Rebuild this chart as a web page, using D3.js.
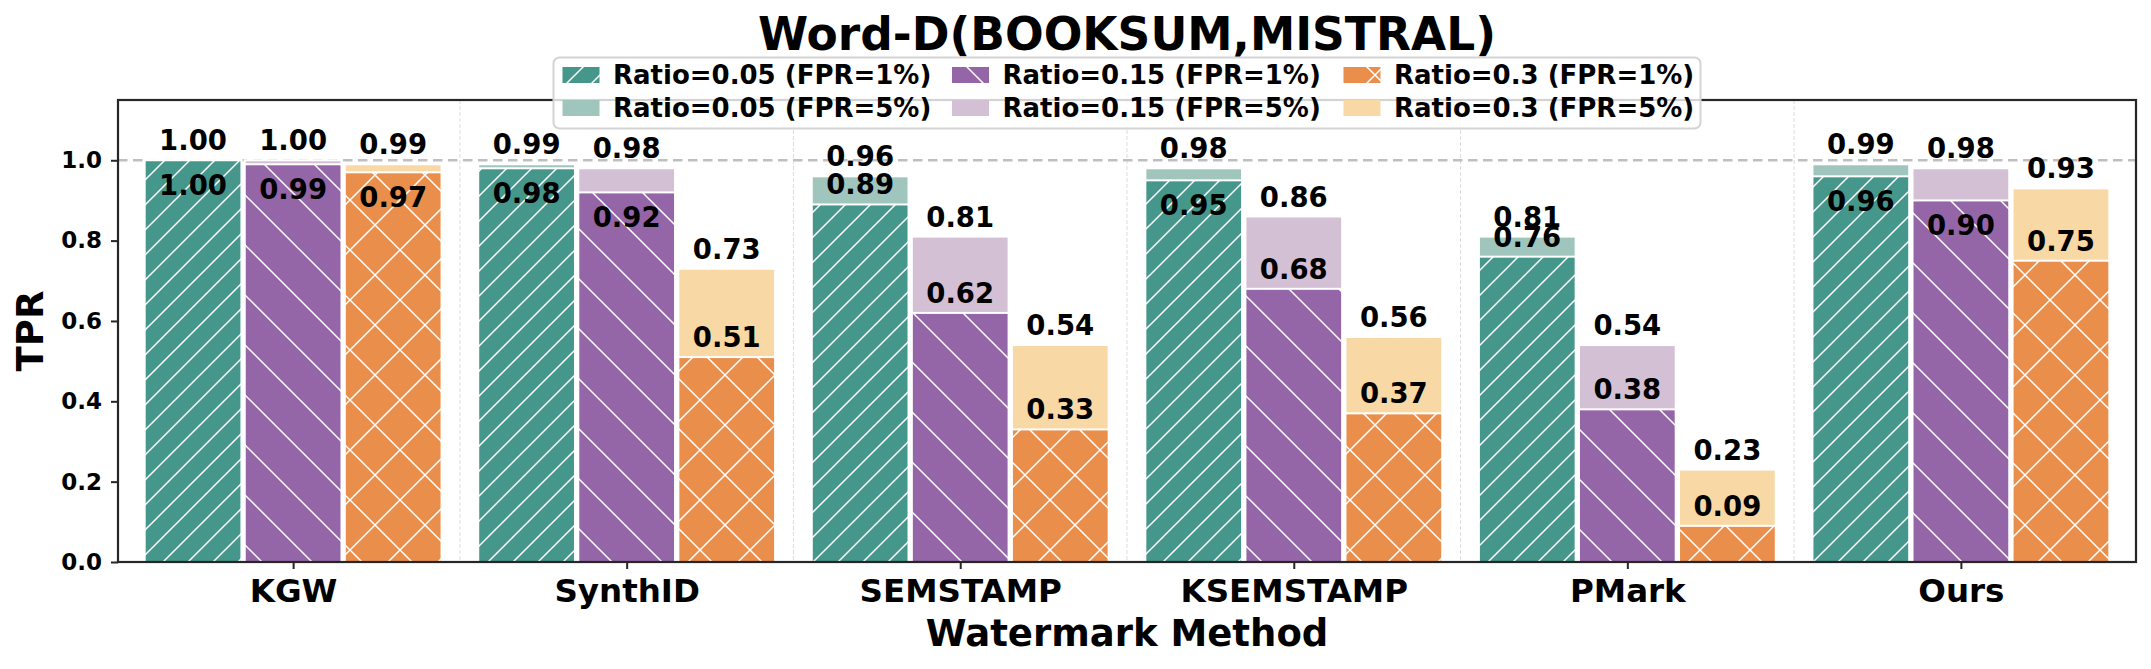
<!DOCTYPE html>
<html>
<head>
<meta charset="utf-8">
<script src="https://cdn.jsdelivr.net/npm/d3@7"></script>
<style>
  body { margin: 0; background: #fff; }
  text { font-family: "DejaVu Sans", sans-serif; font-weight: bold; }
</style>
</head>
<body>
<div id="chartdiv"></div>
<script>
// values
var methods = ["KGW", "SynthID", "SEMSTAMP", "KSEMSTAMP", "PMark", "Ours"];
var ratioNames = ["0.05", "0.15", "0.3"];

var fpr1Ratio005 = [1.00, 0.98, 0.89, 0.95, 0.76, 0.96];
var fpr5Ratio005 = [1.00, 0.99, 0.96, 0.98, 0.81, 0.99];
var fpr1Ratio015 = [0.99, 0.92, 0.62, 0.68, 0.38, 0.90];
var fpr5Ratio015 = [1.00, 0.98, 0.81, 0.86, 0.54, 0.98];
var fpr1Ratio03 = [0.97, 0.51, 0.33, 0.37, 0.09, 0.75];
var fpr5Ratio03 = [0.99, 0.73, 0.54, 0.56, 0.23, 0.93];

var yTicks = [0.0, 0.2, 0.4, 0.6, 0.8, 1.0];

var darkColors = ["#45968b", "#9566a7", "#ea8e4b"];
var lightColors = ["#9fc5bd", "#d4c0d5", "#f8d8a5"];
var hatchKinds = ["/", "\\", "x"];
var hatchSteps = [25, 50, 50];

var fpr1Series = [fpr1Ratio005, fpr1Ratio015, fpr1Ratio03];
var fpr5Series = [fpr5Ratio005, fpr5Ratio015, fpr5Ratio03];

var W = 2151, H = 669;
var plotLeft = 118, plotRight = 2136, plotTop = 100, plotBottom = 562;

var svg = d3.select("#chartdiv").append("svg")
  .attr("width", W)
  .attr("height", H)
  .attr("id", "chartSVG");

var x = d3.scaleLinear().domain([-0.525, 5.525]).range([plotLeft, plotRight]);
var y = d3.scaleLinear().domain([0, 1.15]).range([plotBottom, plotTop]);
var offset = 0.3;      // distance between bars inside a group
var barW = x(0.29) - x(0);

// hatch patterns, tiled from the page origin like matplotlib does
var defs = svg.append("defs");
function makeHatch(id, color, kind, s) {
  var p = defs.append("pattern")
    .attr("id", id)
    .attr("patternUnits", "userSpaceOnUse")
    .attr("x", 0).attr("y", 0)
    .attr("width", s).attr("height", s);
  p.append("rect").attr("width", s).attr("height", s).attr("fill", color);
  var d = "";
  if (kind == "/" || kind == "x") {
    d += "M0," + s + "L" + s + ",0M-3,3L3,-3M" + (s - 3) + "," + (s + 3) + "L" + (s + 3) + "," + (s - 3);
  }
  if (kind == "\\" || kind == "x") {
    d += "M0,0L" + s + "," + s + "M" + (s - 3) + ",-3L" + (s + 3) + ",3M-3," + (s - 3) + "L3," + (s + 3);
  }
  p.append("path").attr("d", d)
    .attr("stroke", "white")
    .attr("stroke-width", 1.5)
    .attr("fill", "none");
}
for (let r = 0; r < 3; r++) {
  makeHatch("hatch" + r, darkColors[r], hatchKinds[r], hatchSteps[r]);
}

// group separators
var seps = d3.range(methods.length - 1).map(function(i) { return i + 0.5; });
svg.selectAll(".sep").data(seps).enter().append("line")
  .attr("class", "sep")
  .attr("x1", function(d) { return x(d); })
  .attr("x2", function(d) { return x(d); })
  .attr("y1", plotTop).attr("y2", plotBottom)
  .attr("stroke", "#dcdcdc")
  .attr("stroke-width", 1)
  .attr("stroke-dasharray", "4,2");

// reference line at TPR = 1
svg.append("line")
  .attr("x1", plotLeft).attr("x2", plotRight)
  .attr("y1", y(1)).attr("y2", y(1))
  .attr("stroke", "#bfbfbf")
  .attr("stroke-width", 2.5)
  .attr("stroke-dasharray", "9.5,5.5");

// bars
for (let r = 0; r < 3; r++) {
  var g = svg.append("g").attr("class", "ratio" + r);
  var cx = function(i) { return x(i + (r - 1) * offset); };
  g.selectAll(".light").data(fpr5Series[r]).enter().append("rect")
    .attr("class", "light")
    .attr("x", function(d, i) { return cx(i) - barW / 2; })
    .attr("y", function(d) { return y(d); })
    .attr("width", barW)
    .attr("height", function(d) { return y(0) - y(d); })
    .attr("fill", lightColors[r])
    .attr("stroke", "white")
    .attr("stroke-width", 2);
  g.selectAll(".dark").data(fpr1Series[r]).enter().append("rect")
    .attr("class", "dark")
    .attr("x", function(d, i) { return cx(i) - barW / 2; })
    .attr("y", function(d) { return y(d); })
    .attr("width", barW)
    .attr("height", function(d) { return y(0) - y(d); })
    .attr("fill", "url(#hatch" + r + ")")
    .attr("stroke", "white")
    .attr("stroke-width", 2);

  // value labels: FPR=5% above the bar, FPR=1% inside when high, else above
  g.selectAll(".lab5").data(fpr5Series[r]).enter().append("text")
    .attr("class", "lab5")
    .attr("x", function(d, i) { return cx(i); })
    .attr("y", function(d) { return y(d) - 10; })
    .attr("text-anchor", "middle")
    .style("font-size", "27.5px")
    .text(function(d) { return d.toFixed(2); });
  g.selectAll(".lab1").data(fpr1Series[r]).enter().append("text")
    .attr("class", "lab1")
    .attr("x", function(d, i) { return cx(i); })
    .attr("y", function(d) { return d >= 0.9 ? y(d) + 34.5 : y(d) - 10; })
    .attr("text-anchor", "middle")
    .style("font-size", "27.5px")
    .text(function(d) { return d.toFixed(2); });
}

// axes
var yAxis = d3.axisLeft(y).tickValues(yTicks).tickSize(7).tickPadding(9)
  .tickFormat(d3.format(".1f"));
var gy = svg.append("g").attr("transform", "translate(" + plotLeft + ",0)").call(yAxis);
gy.select(".domain").remove();
gy.selectAll("line").attr("stroke", "#262626").attr("stroke-width", 2);
gy.selectAll("text").style("font-size", "23px").attr("fill", "black");

var xAxis = d3.axisBottom(x).tickValues(d3.range(methods.length)).tickSize(7)
  .tickFormat(function(d) { return methods[d]; });
var gx = svg.append("g").attr("transform", "translate(0," + plotBottom + ")").call(xAxis);
gx.select(".domain").remove();
gx.selectAll("line").attr("stroke", "#262626").attr("stroke-width", 2);
gx.selectAll("text").style("font-size", "32.5px").attr("fill", "black")
  .attr("y", 39.5).attr("dy", null);

// frame
svg.append("rect")
  .attr("x", plotLeft).attr("y", plotTop)
  .attr("width", plotRight - plotLeft).attr("height", plotBottom - plotTop)
  .attr("fill", "none")
  .attr("stroke", "#262626")
  .attr("stroke-width", 2.2);

// titles
svg.append("text")
  .attr("x", (plotLeft + plotRight) / 2).attr("y", 50)
  .attr("text-anchor", "middle")
  .style("font-size", "45.5px")
  .text("Word-D(BOOKSUM,MISTRAL)");
svg.append("text")
  .attr("x", (plotLeft + plotRight) / 2).attr("y", 646)
  .attr("text-anchor", "middle")
  .style("font-size", "37px")
  .text("Watermark Method");
svg.append("text")
  .attr("transform", "translate(42.5," + ((plotTop + plotBottom) / 2) + ") rotate(-90)")
  .attr("text-anchor", "middle")
  .style("font-size", "37px")
  .text("TPR");

// legend
var legend = svg.append("g").attr("class", "legend");
legend.append("rect")
  .attr("x", 553.5).attr("y", 57.5)
  .attr("width", 1147).attr("height", 71)
  .attr("rx", 6)
  .attr("fill", "white").attr("fill-opacity", 0.8)
  .attr("stroke", "#d4d4d4").attr("stroke-width", 2);
var colX = [562.5, 952, 1343.5];
var rowY = [67, 100];
for (let r = 0; r < 3; r++) {
  var fills = ["url(#hatch" + r + ")", lightColors[r]];
  var names = ["Ratio=" + ratioNames[r] + " (FPR=1%)", "Ratio=" + ratioNames[r] + " (FPR=5%)"];
  for (let k = 0; k < 2; k++) {
    legend.append("rect")
      .attr("x", colX[r]).attr("y", rowY[k])
      .attr("width", 37).attr("height", 16)
      .attr("fill", fills[k]);
    legend.append("text")
      .attr("x", colX[r] + 50.5).attr("y", rowY[k] + 17)
      .style("font-size", "26px")
      .text(names[k]);
  }
}
</script>
</body>
</html>
